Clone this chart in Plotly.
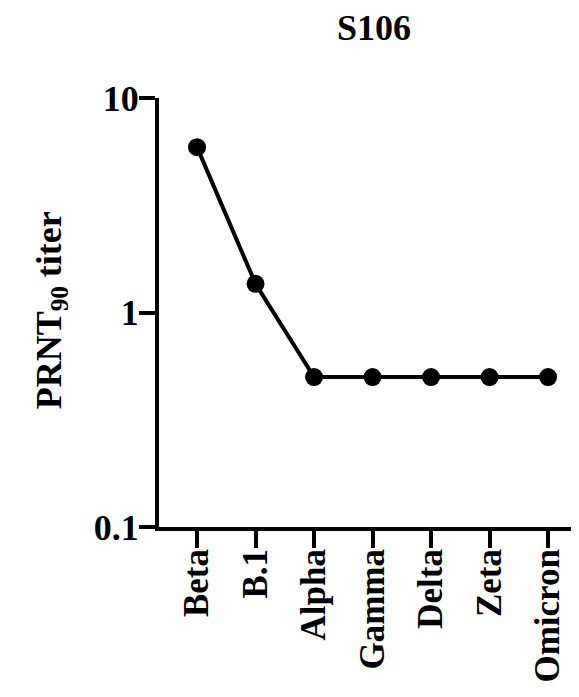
import plotly.graph_objects as go

categories = ["Beta", "B.1", "Alpha", "Gamma", "Delta", "Zeta", "Omicron"]
titers = [5.9, 1.36, 0.5, 0.5, 0.5, 0.5, 0.5]
y_tickvals = [0.1, 1, 10]
y_ticktext = ["0.1", "1", "10"]

FONT = "Liberation Serif, Times New Roman, serif"

# page body has an 8px default margin, so the figure is drawn 8px in and down
W, H = 571, 689
L, T, R, B = 151, 90, 4, 170
PW = W - L - R

fig = go.Figure()
fig.add_trace(go.Scatter(
    x=list(range(len(categories))), y=titers, mode="lines+markers",
    line=dict(color="black", width=4),
    marker=dict(color="black", size=18),
    showlegend=False, cliponaxis=False,
))

fig.update_layout(
    width=W, height=H,
    margin=dict(l=L, r=R, t=T, b=B),
    paper_bgcolor="white", plot_bgcolor="white",
    font=dict(family=FONT, color="black", size=34),
    title=dict(text="<b>S106</b>", x=(374 - 8) / W, xanchor="center", xref="container",
               y=1 - (27 - 8) / H, yanchor="middle", yref="container",
               font=dict(size=36, family=FONT, color="black")),
    annotations=[dict(
        text="<b>PRNT<sub>90</sub> titer</b>", textangle=-90,
        xref="paper", yref="paper", x=(51 - 8 - L) / PW, y=0.505,
        xanchor="center", yanchor="middle", showarrow=False,
        font=dict(size=36, family=FONT, color="black"),
    )],
)
fig.update_xaxes(
    range=[-0.65, 6.46], tickmode="array", automargin=False,
    tickvals=list(range(len(categories))),
    ticktext=[f"<b>{c}</b>" for c in categories],
    tickangle=-90, ticks="outside", ticklen=17, tickwidth=4, tickcolor="black",
    showline=True, linewidth=4, linecolor="black", showgrid=False, zeroline=False,
    tickfont=dict(size=35, family=FONT), ticklabelstandoff=-13,
)
fig.update_yaxes(
    type="log", range=[-1, 1], tickmode="array", automargin=False,
    tickvals=y_tickvals, ticktext=[f"<b>{t}</b>" for t in y_ticktext],
    ticks="outside", ticklen=16, tickwidth=4, tickcolor="black",
    showline=True, linewidth=4, linecolor="black", showgrid=False, zeroline=False,
    tickfont=dict(size=36, family=FONT), ticklabelstandoff=-7,
)

fig.write_html("out.html")
